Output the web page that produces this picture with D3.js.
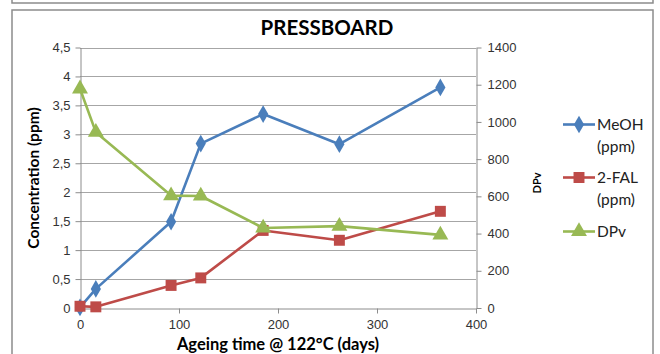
<!DOCTYPE html>
<html>
<head>
<meta charset="utf-8">
<script src="https://cdn.jsdelivr.net/npm/d3@7"></script>
<style>
  html, body { margin: 0; padding: 0; background: #fff; }
  svg { display: block; font-family: Lato, "Open Sans", sans-serif; }
</style>
</head>
<body>
<svg id="chart" width="660" height="354"></svg>
<script>
// Ageing days and measured values
const days = [0, 16, 92, 122, 185, 262, 364];
const meoh = [0.01, 0.33, 1.49, 2.84, 3.35, 2.83, 3.81];
const fal = [0.03, 0.02, 0.39, 0.52, 1.34, 1.17, 1.67];
const dpv = [1178, 945, 604, 602, 430, 440, 393];

const xTicks = [0, 100, 200, 300, 400];
const yTicks = [0, 0.5, 1, 1.5, 2, 2.5, 3, 3.5, 4, 4.5];
const y2Ticks = [0, 200, 400, 600, 800, 1000, 1200, 1400];
const seriesNames = ["MeOH", "2-FAL", "DPv"];
const colors = ["#4A7EBB", "#BE4B48", "#98B954"];

const svg = d3.select("#chart");

// Outer frames
svg.append("path").attr("d", "M12,0 V3 H653 V0")
  .attr("fill", "none").attr("stroke", "#8c8c8c").attr("stroke-width", 1.5);
svg.append("rect").attr("x", 12).attr("y", 10).attr("width", 641).attr("height", 350)
  .attr("fill", "#fff").attr("stroke", "#8c8c8c").attr("stroke-width", 1.5);

const x = d3.scaleLinear().domain([0, 400]).range([80, 476]);
const y = d3.scaleLinear().domain([0, 4.5]).range([308, 47.5]);
const y2 = d3.scaleLinear().domain([0, 1400]).range([308, 47.5]);

// Horizontal gridlines
svg.append("g").selectAll("line").data(yTicks.slice(1)).join("line")
  .attr("x1", 80).attr("x2", 476)
  .attr("y1", d => Math.round(y(d)) + 0.5).attr("y2", d => Math.round(y(d)) + 0.5)
  .attr("stroke", "#a6a6a6").attr("stroke-width", 1);

function styleAxis(g) {
  g.select(".domain").attr("stroke", "#8c8c8c");
  g.selectAll(".tick line").attr("stroke", "#8c8c8c");
  g.selectAll(".tick text").attr("fill", "#333").attr("font-size", 13);
}

svg.append("g").attr("transform", "translate(0,308.5)")
  .call(d3.axisBottom(x).tickValues(xTicks).tickSize(5).tickSizeOuter(0).tickPadding(6))
  .call(styleAxis);

svg.append("g").attr("transform", "translate(80.5,0)")
  .call(d3.axisLeft(y).tickValues(yTicks).tickSize(5).tickSizeOuter(0).tickPadding(5)
    .tickFormat(d => String(d).replace(".", ",")))
  .call(styleAxis);

svg.append("g").attr("transform", "translate(476.5,0)")
  .call(d3.axisRight(y2).tickValues(y2Ticks).tickSize(5).tickSizeOuter(0).tickPadding(6)
    .tickFormat(d => String(d)))
  .call(styleAxis);

// Series lines and markers
const series = [
  { vals: meoh, sc: y, marker: d3.symbolDiamond, size: 90 },
  { vals: fal, sc: y, marker: d3.symbolSquare, size: 120 },
  { vals: dpv, sc: y2, marker: d3.symbolTriangle, size: 110 }
];

series.forEach((s, i) => {
  const pts = days.map((d, j) => [x(d), s.sc(s.vals[j])]);
  svg.append("path").attr("d", d3.line()(pts))
    .attr("fill", "none").attr("stroke", colors[i]).attr("stroke-width", 2.6)
    .attr("stroke-linejoin", "round");
  svg.append("g").selectAll("path").data(pts).join("path")
    .attr("transform", p => `translate(${p[0]},${p[1]})`)
    .attr("d", d3.symbol().type(s.marker).size(s.size))
    .attr("fill", colors[i]);
});

// Titles
svg.append("text").attr("x", 327).attr("y", 35).attr("text-anchor", "middle")
  .attr("font-size", 20.5).attr("font-weight", "bold").attr("fill", "#000").text("PRESSBOARD");
svg.append("text").attr("x", 278).attr("y", 350).attr("text-anchor", "middle")
  .attr("font-size", 16.5).attr("font-weight", "bold").attr("fill", "#000")
  .text("Ageing time @ 122°C (days)");
svg.append("text").attr("transform", "translate(39,178) rotate(-90)").attr("text-anchor", "middle")
  .attr("font-size", 15.5).attr("font-weight", "bold").attr("fill", "#000")
  .text("Concentration (ppm)");
svg.append("text").attr("transform", "translate(541,183) rotate(-90)").attr("text-anchor", "middle")
  .attr("font-size", 11).attr("font-weight", "bold").attr("fill", "#000").text("DPv");

// Legend
const legendRows = [
  { lines: [seriesNames[0], "(ppm)"], y: 124.5 },
  { lines: [seriesNames[1], "(ppm)"], y: 177.5 },
  { lines: [seriesNames[2]], y: 231.5 }
];
legendRows.forEach((r, i) => {
  const g = svg.append("g");
  g.append("line").attr("x1", 563).attr("x2", 595).attr("y1", r.y).attr("y2", r.y)
    .attr("stroke", colors[i]).attr("stroke-width", 2.6);
  g.append("path").attr("transform", `translate(579,${r.y})`)
    .attr("d", d3.symbol().type(series[i].marker).size(series[i].size)).attr("fill", colors[i]);
  r.lines.forEach((t, k) => {
    g.append("text").attr("x", 597).attr("y", r.y + 5.5 + k * 22)
      .attr("font-size", 15.5).attr("fill", "#222").text(t);
  });
});
</script>
</body>
</html>
